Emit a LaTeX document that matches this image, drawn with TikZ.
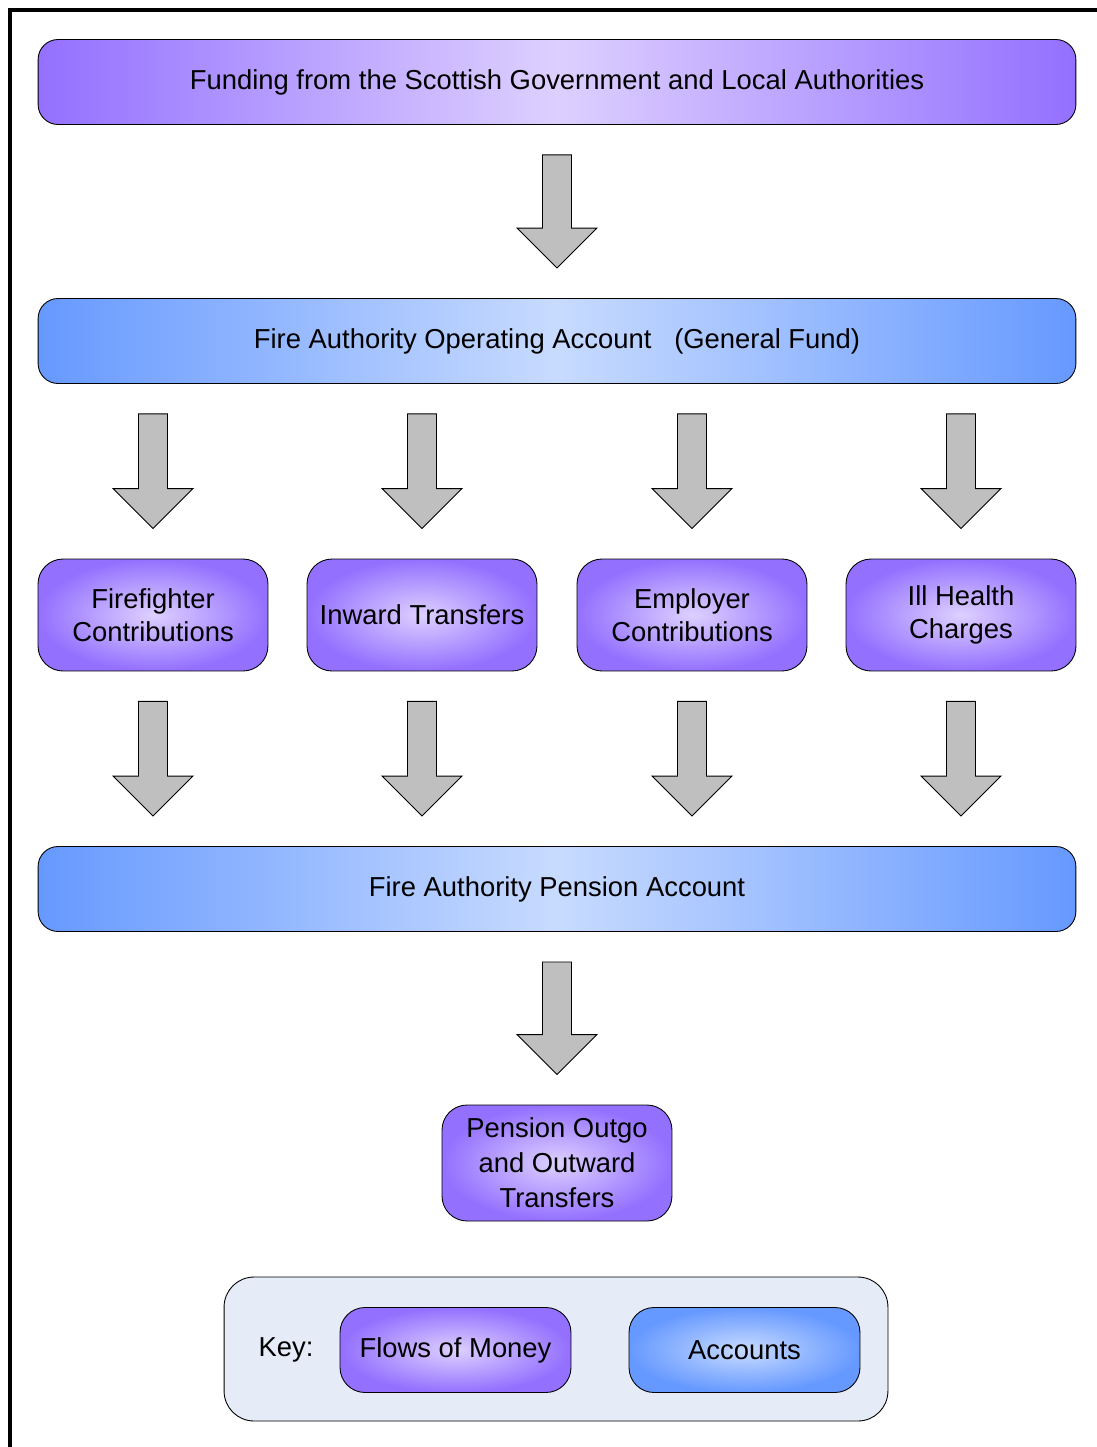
\documentclass[tikz,border=0pt]{standalone}
\usepackage{fontspec}
\setmainfont{Liberation Sans}
\usepackage{xcolor}
\usepackage{tikz}
\usetikzlibrary{calc,positioning}
\definecolor{flowdark}{HTML}{9470FF}
\definecolor{flowlight}{HTML}{DDD0FF}
\definecolor{accdark}{HTML}{6699FF}
\definecolor{acclight}{HTML}{C8DBFF}
\definecolor{keyback}{HTML}{E6ECF7}
\pgfdeclarehorizontalshading{flowband}{100bp}{color(0bp)=(flowdark); color(25bp)=(flowdark);
	color(50bp)=(flowlight); color(75bp)=(flowdark); color(100bp)=(flowdark)}
\pgfdeclarehorizontalshading{accband}{100bp}{color(0bp)=(accdark); color(25bp)=(accdark);
	color(50bp)=(acclight); color(75bp)=(accdark); color(100bp)=(accdark)}
\tikzstyle{box} = [draw=black, line width=0.5pt, align=center, inner sep=0pt,
	font=\fontsize{15.6}{19}\selectfont]
\tikzstyle{wideflow} = [box, rounded corners=0.4cm, minimum width=20.76cm, minimum height=1.7cm,
	shading=flowband]
\tikzstyle{wideaccount} = [box, rounded corners=0.4cm, minimum width=20.76cm, minimum height=1.7cm,
	shading=accband]
\tikzstyle{flow} = [box, rounded corners=0.5cm, minimum width=4.6cm, minimum height=2.24cm,
	inner color=flowlight, outer color=flowdark]
\tikzstyle{account} = [box, rounded corners=0.5cm, minimum width=4.6cm, minimum height=1.7cm,
	inner color=acclight, outer color=accdark]
\tikzstyle{blockarrow} = [fill=gray!50, draw=black, line width=0.5pt]
% block arrow: #1 node giving x, #2 from, #3 to
\newcommand{\moneyarrow}[3]{%
	\coordinate (ma-top) at ($(#1.center |- #2.south)+(0,-30)$);
	\coordinate (ma-tip) at ($(#1.center |- #3.north)+(0,30)$);
	\draw[blockarrow] ($(ma-top)+(-14.5,0)$) -- ($(ma-top)+(14.5,0)$) -- ($(ma-tip)+(14.5,40)$)
		-- ($(ma-tip)+(40,40)$) -- (ma-tip) -- ($(ma-tip)+(-40,40)$) -- ($(ma-tip)+(-14.5,40)$) -- cycle;}

\begin{document}
\begin{tikzpicture}[x=0.02cm,y=0.02cm]
   \useasboundingbox (0,0) rectangle (1097,-1447);
   \draw[line width=2.3pt] (10,-1447) -- (10,-10) -- (1097,-10);

   \node[wideflow] (fund) at (557,-82) {Funding from the Scottish Government and Local Authorities};
   \node[wideaccount] (opacc) at (557,-341) {Fire Authority Operating Account\ \ \ (General Fund)};

   \node[flow] (ffc) at (153,-615) {Firefighter\\Contributions};
   \node[flow] (inw) at (422,-615) {Inward Transfers};
   \node[flow] (empc) at (692,-615) {Employer\\Contributions};
   \node[flow] (ill) at (961,-615) {Ill Health\\Charges};

   \node[wideaccount] (pens) at (557,-889) {Fire Authority Pension Account};
   \node[flow, minimum height=2.32cm, font=\fontsize{15.6}{20}\selectfont] (outgo) at (557,-1163) {Pension Outgo\\and Outward\\Transfers};

   % key
   \node[draw=black, line width=0.5pt, fill=keyback, rounded corners=0.6cm,
   	minimum width=13.28cm, minimum height=2.88cm] (key) at (556,-1349) {};
   \node[font=\fontsize{15.6}{19}\selectfont] (keylab) at (286,-1350) {Key:};
   \node[flow, minimum height=1.7cm, minimum width=4.62cm] (keyflow) at (455.5,-1350) {Flows of Money};
   \node[account, minimum width=4.62cm] (keyacc) at (744.5,-1350) {Accounts};

   \moneyarrow{fund}{fund}{opacc}
   \foreach \n in {ffc,inw,empc,ill}{
   	\moneyarrow{\n}{opacc}{\n}
   	\moneyarrow{\n}{\n}{pens}
   }
   \moneyarrow{pens}{pens}{outgo}
\end{tikzpicture}
\end{document}
